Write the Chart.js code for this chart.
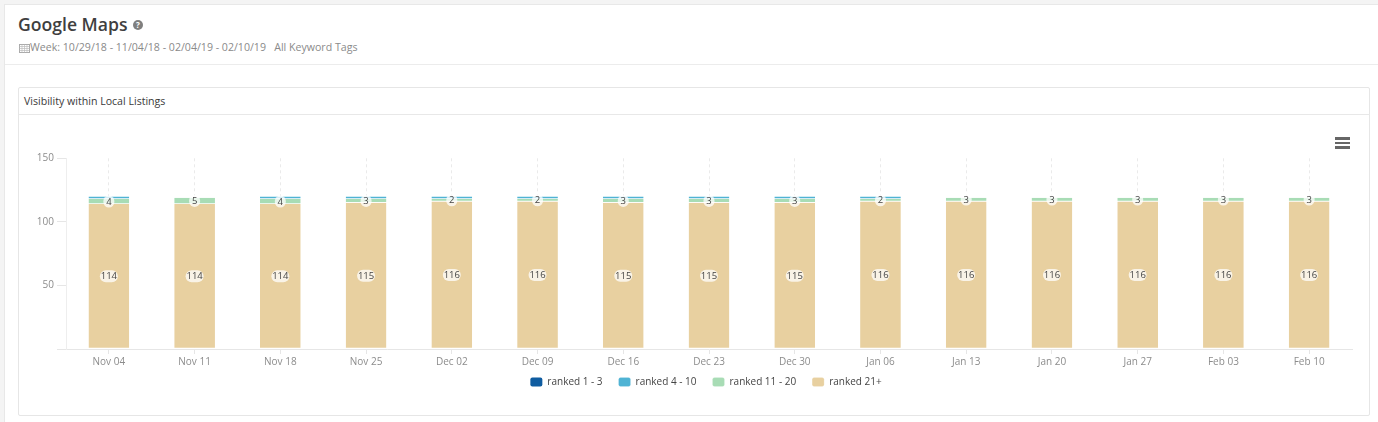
<!DOCTYPE html>
<html>
<head>
<meta charset="utf-8">
<script src="https://cdn.jsdelivr.net/npm/chart.js@4"></script>
<style>
html, body { margin: 0; height: 100%; overflow: hidden; background: #f4f4f4; font-family: "Open Sans", sans-serif; }
.panel { position: absolute; left: 4px; top: 4px; width: 1374px; height: 418px; background: #fff; border-left: 1px solid #e8e8e8; border-top: 1px solid #e8e8e8; box-sizing: border-box; }
.head-line { position: absolute; left: 5px; top: 64px; width: 1373px; height: 1px; background: #ececec; }
h1 { position: absolute; left: 18px; top: 12px; margin: 0; font-size: 17.6px; line-height: 25px; font-weight: 600; color: #3f3f3f; white-space: nowrap; }
.help { position: absolute; left: 133px; top: 20px; width: 10px; height: 10px; border-radius: 50%; background: #7f7f7f; color: #fff; font-size: 8px; line-height: 10px; font-weight: 700; text-align: center; }
.sub { position: absolute; left: 30px; top: 40px; font-size: 10.6px; line-height: 15px; color: #8a8a8a; white-space: nowrap; }
.cal { position: absolute; left: 19px; top: 43px; }
.card { position: absolute; left: 18px; top: 87px; width: 1352px; height: 329px; border: 1px solid #e6e6e6; border-radius: 2px; box-sizing: border-box; background: #fff; }
.card-title { position: absolute; left: 24px; top: 94px; font-size: 10.6px; line-height: 15px; color: #3a3a3a; }
.card-line { position: absolute; left: 19px; top: 114px; width: 1351px; height: 1px; background: #e8e8e8; }
.burger { position: absolute; left: 1335px; top: 137px; width: 15px; height: 12px; background: linear-gradient(#666 0 2.6px, transparent 2.6px 4.7px, #666 4.7px 7.3px, transparent 7.3px 9.4px, #666 9.4px 12px); }
.chart-box { position: absolute; left: 19px; top: 115px; width: 1373px; height: 291px; }
</style>
</head>
<body>
<div class="panel"></div>
<div class="head-line"></div>
<h1>Google Maps</h1>
<div class="help">?</div>
<svg class="cal" width="11" height="10" viewBox="0 0 11 10"><rect x="0.5" y="1.5" width="10" height="8" fill="none" stroke="#aaa"/><path d="M0.5 3.5h10M0.5 5.5h10M0.5 7.5h10M3 1.5v8M5.5 1.5v8M8 1.5v8" stroke="#bbb" stroke-width="0.7"/></svg>
<div class="sub">Week: 10/29/18 - 11/04/18 - 02/04/19 - 02/10/19 &nbsp; All Keyword Tags</div>
<div class="card"></div>
<div class="card-title">Visibility within Local Listings</div>
<div class="card-line"></div>
<div class="burger"></div>
<div class="chart-box"><canvas id="chart"></canvas></div>

<script>
const weeks = ['Nov 04', 'Nov 11', 'Nov 18', 'Nov 25', 'Dec 02', 'Dec 09', 'Dec 16', 'Dec 23', 'Dec 30', 'Jan 06', 'Jan 13', 'Jan 20', 'Jan 27', 'Feb 03', 'Feb 10'];
const ranked1to3 = [0, 0, 0, 0, 0, 0, 0, 0, 0, 0, 0, 0, 0, 0, 0];
const ranked4to10 = [2, 0, 2, 2, 2, 2, 2, 2, 2, 2, 0, 0, 0, 0, 0];
const ranked11to20 = [4, 5, 4, 3, 2, 2, 3, 3, 3, 2, 3, 3, 3, 3, 3];
const ranked21plus = [114, 114, 114, 115, 116, 116, 115, 115, 115, 116, 116, 116, 116, 116, 116];
const yTicks = [50, 100, 150];

// thin white seam under each stacked segment, nothing on empty ones
const barBorder = (ctx) => (ctx.raw ? { top: 0, bottom: 0.7, left: 0, right: 0 } : 0);

// white pills with the value, only on the two big series
const valueLabels = {
    id: 'valueLabels',
    afterLayout(chart) {
        // legend sits off centre and close under the axis labels
        const legend = chart.legend;
        legend.left += 20.5;
        legend.right += 20.5;
        legend.top -= 9;
        legend.bottom -= 9;
    },
    afterDatasetsDraw(chart) {
        const ctx = chart.ctx;
        ctx.save();
        ctx.font = '9.5px "Open Sans"';
        ctx.textAlign = 'center';
        ctx.textBaseline = 'middle';
        [0, 1].forEach((i) => {
            const meta = chart.getDatasetMeta(i);
            meta.data.forEach((bar, j) => {
                const text = String(chart.data.datasets[i].data[j]);
                const y = (bar.y + bar.base) / 2;
                const w = text.length > 1 ? 18 : 11;
                ctx.fillStyle = 'rgba(255, 255, 255, 0.75)';
                ctx.beginPath();
                ctx.roundRect(bar.x - w / 2, y - 6, w, 12, 6);
                ctx.fill();
                ctx.fillStyle = '#444';
                ctx.fillText(text, bar.x, y + 0.5);
            });
        });
        ctx.restore();
    }
};

// stacking follows dataset order, so the bottom series goes first and the legend is reversed
new Chart(document.getElementById('chart'), {
    type: 'bar',
    data: {
        labels: weeks,
        datasets: [
            { label: 'ranked 21+', data: ranked21plus, backgroundColor: '#e8d0a0' },
            { label: 'ranked 11 - 20', data: ranked11to20, backgroundColor: '#a8dcb5' },
            { label: 'ranked 4 - 10', data: ranked4to10, backgroundColor: '#4fb3d4' },
            { label: 'ranked 1 - 3', data: ranked1to3, backgroundColor: '#0f5ca0' }
        ]
    },
    options: {
        responsive: true,
        maintainAspectRatio: false,
        animation: false,
        datasets: {
            bar: {
                barPercentage: 0.95,
                categoryPercentage: 0.5,
                borderWidth: barBorder,
                borderColor: '#fff',
                borderSkipped: false
            }
        },
        layout: { padding: { top: 43.3, right: 40, bottom: 0, left: 0 } },
        plugins: {
            tooltip: { enabled: false },
            legend: {
                position: 'bottom',
                reverse: true,
                labels: {
                    boxWidth: 12,
                    boxHeight: 9,
                    useBorderRadius: true,
                    borderRadius: 2,
                    padding: 16,
                    color: '#444',
                    font: { family: '"Open Sans"', size: 10 }
                }
            }
        },
        scales: {
            x: {
                stacked: true,
                grid: { offset: false, color: '#eaeaea', tickColor: '#e6e6e6', tickLength: 5, tickBorderDash: [], drawTicks: true },
                border: { color: '#e6e6e6', dash: [3, 3] },
                ticks: { color: '#8c8c8c', padding: 2, maxRotation: 0, autoSkip: false, font: { family: '"Open Sans"', size: 10 } }
            },
            y: {
                stacked: true,
                min: 0,
                max: 150,
                afterFit: (scale) => { scale.width = 47; },
                grid: { drawOnChartArea: false, tickColor: '#e6e6e6', tickLength: 9 },
                border: { color: '#eeeeee' },
                ticks: {
                    stepSize: 50,
                    color: '#8c8c8c',
                    padding: 3,
                    font: { family: '"Open Sans"', size: 10 },
                    callback: (value) => (yTicks.includes(value) ? value : '')
                }
            }
        }
    },
    plugins: [valueLabels]
});
</script>
</body>
</html>
